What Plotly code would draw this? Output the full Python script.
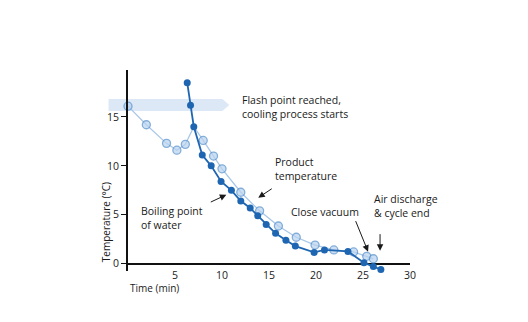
import plotly.graph_objects as go

# Product temperature (light series)
product_time = [0, 1.95, 4.1, 5.2, 6.1, 7.0, 8.0, 9.1, 10.0, 12.0, 14.0, 16.0, 17.9, 19.9, 21.9, 24.0, 25.4, 26.1]
product_temp = [16.1, 14.2, 12.3, 11.6, 12.2, 14.0, 12.6, 11.0, 9.7, 7.3, 5.4, 3.85, 2.7, 1.9, 1.4, 1.2, 0.75, 0.5]

# Boiling point of water (dark series)
boil_time = [6.3, 6.65, 7.0, 7.9, 8.85, 9.9, 11.0, 12.0, 13.0, 13.8, 14.7, 15.7, 16.8, 17.8, 19.8, 20.9, 23.4, 25.1, 26.1, 26.9]
boil_temp = [18.5, 16.2, 14.0, 11.1, 10.0, 8.4, 7.5, 6.4, 5.7, 4.9, 4.0, 3.1, 2.4, 1.8, 1.15, 1.4, 1.25, 0.1, -0.3, -0.6]

x_ticks = [5, 10, 15, 20, 25, 30]
y_ticks = [0, 5, 10, 15]

FONT = "Open Sans"
W, H = 528, 322
L, R, T, B = 127.5, 118, 70, 50.6

def px(xp):
    return (xp - L) / (W - L - R)

def py(yp):
    return 1 - (yp - T) / (H - T - B)

# the light curve's peak sits under the dark marker where the two lines meet
light_sizes = [0 if (t == 7.0) else 8 for t in product_time]

fig = go.Figure()
fig.add_trace(go.Scatter(
    x=product_time, y=product_temp, mode="lines+markers",
    line=dict(color="#a9c7e8", width=1.3),
    marker=dict(size=light_sizes, color="#b9d3ef", line=dict(color="#4f8ccb", width=1.3)),
    cliponaxis=False, showlegend=False))
fig.add_trace(go.Scatter(
    x=boil_time, y=boil_temp, mode="lines+markers",
    line=dict(color="#1f66b2", width=1.8),
    marker=dict(size=7, color="#1f66b2"),
    cliponaxis=False, showlegend=False))

# Light blue arrow band behind the data
x0, x1, x2 = px(108), px(222), px(229)
ytop, ybot, ymid = py(99), py(111), py(105)
fig.add_shape(type="path", xref="paper", yref="paper", layer="below",
              path=f"M {x0} {ytop} L {x1} {ytop} L {x2} {ymid} L {x1} {ybot} L {x0} {ybot} Z",
              fillcolor="#dce8f6", line=dict(width=0))

texts = [
    ("Flash point reached,<br>cooling process starts", 240, 107),
    ("Product<br>temperature", 273, 169),
    ("Boiling point<br>of water", 139, 218),
    ("Close vacuum", 289, 212.5),
    ("Air discharge<br>& cycle end", 372, 206.5),
]
for t, xp, yp in texts:
    fig.add_annotation(text=t, xref="paper", yref="paper", x=px(xp), y=py(yp),
                       xanchor="left", yanchor="middle", align="left", showarrow=False,
                       font=dict(family=FONT, size=10.5, color="#1a1a1a"))

arrows = [
    (273, 188, 258, 198),
    (209, 203, 226, 195),
    (355, 220, 368, 252),
    (380, 233, 380, 251),
]
for tx, ty, hx, hy in arrows:
    fig.add_annotation(text="", xref="paper", yref="paper", x=px(hx), y=py(hy),
                       ax=tx - hx, ay=ty - hy, axref="pixel", ayref="pixel",
                       showarrow=True, arrowhead=2, arrowsize=1.3, arrowwidth=1,
                       arrowcolor="#1a1a1a")

fig.add_annotation(text="Temperature (°C)", xref="paper", yref="paper",
                   x=px(105), y=py(223), textangle=-90, showarrow=False,
                   xanchor="center", yanchor="middle",
                   font=dict(family=FONT, size=10, color="#1a1a1a"))
fig.add_annotation(text="Time (min)", xref="paper", yref="paper",
                   x=px(127), y=py(288.5), showarrow=False,
                   xanchor="left", yanchor="middle",
                   font=dict(family=FONT, size=10, color="#1a1a1a"))

fig.update_xaxes(range=[0, 30], tickvals=x_ticks, showgrid=False, zeroline=False,
                 showline=False, ticks="", ticklabelstandoff=-4,
                 tickfont=dict(family=FONT, size=10.5, color="#1a1a1a"))
fig.update_yaxes(range=[-0.75, 19.8], tickvals=y_ticks, showgrid=False,
                 zeroline=True, zerolinecolor="#111111", zerolinewidth=1.6,
                 showline=True, linecolor="#111111", linewidth=1.6,
                 ticks="outside", ticklen=5, tickwidth=1.2, tickcolor="#111111",
                 tickfont=dict(family=FONT, size=10.5, color="#1a1a1a"))

fig.update_layout(width=W, height=H, margin=dict(l=L, r=R, t=T, b=B, autoexpand=False),
                  paper_bgcolor="white", plot_bgcolor="white",
                  font=dict(family=FONT))
fig.write_html("out.html")
